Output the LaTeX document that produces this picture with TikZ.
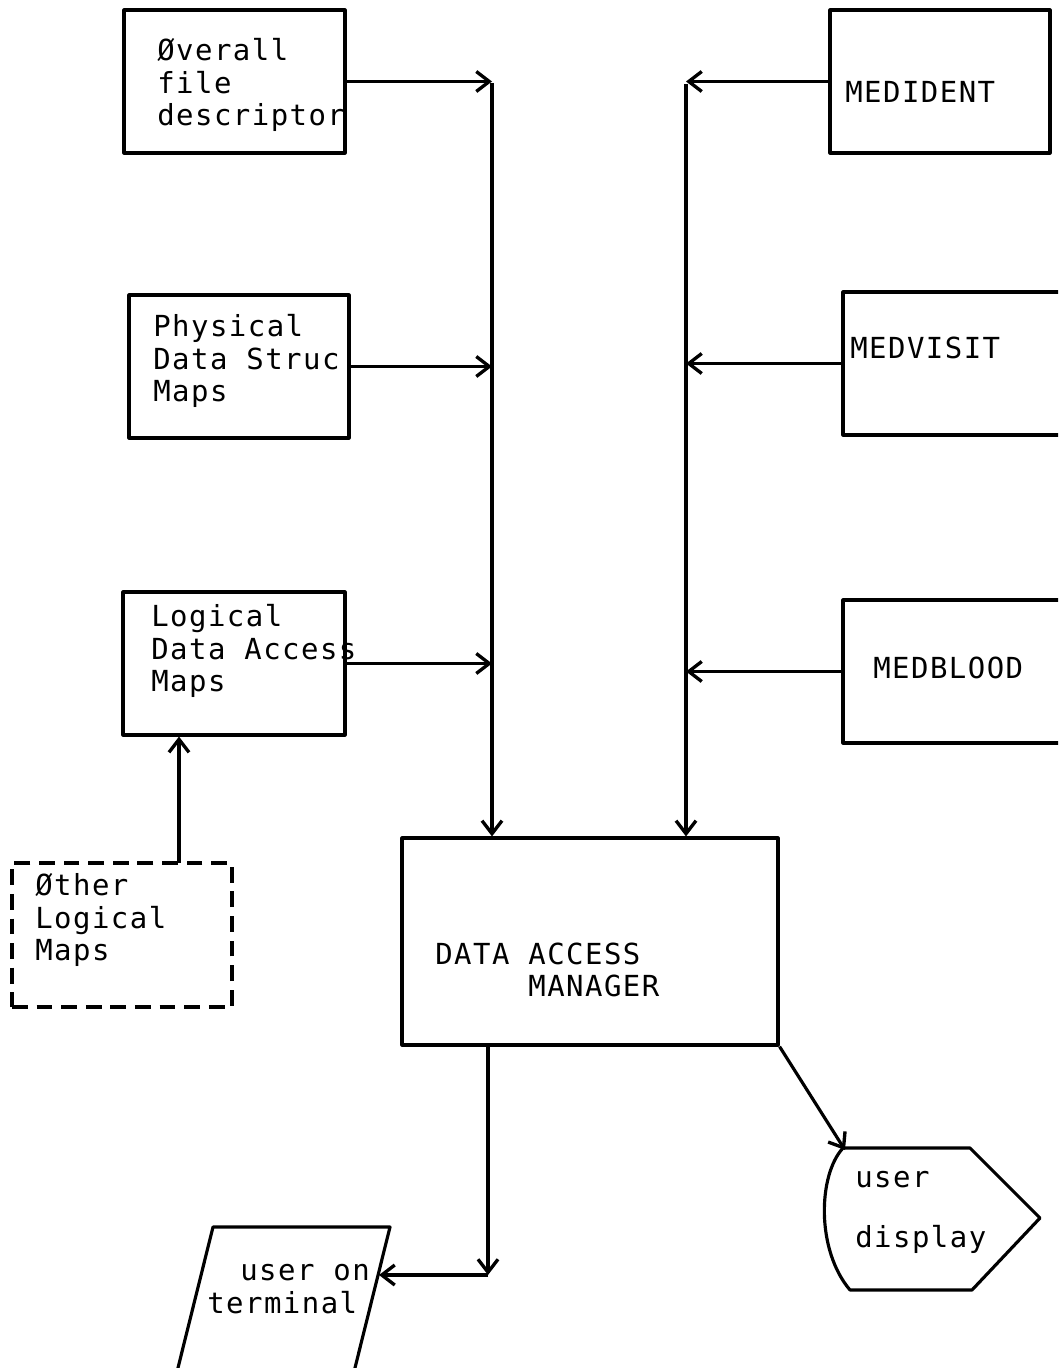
\documentclass[tikz,border=0pt]{standalone}
\usepackage{fontspec}
\newfontfamily\printerfont[LetterSpace=5]{DejaVu Sans Mono}
\usetikzlibrary{arrows.meta, positioning, fit, calc}

\tikzset{
    box/.style={draw, line width=1.8pt, inner sep=0pt, line join=round},
    dashbox/.style={box, dash pattern=on 9pt off 5pt},
    conn/.style={-{Straight Barb[length=2.6mm, width=4mm, line width=1.9pt]}, line width=1.8pt},
    lbl/.style={font=\printerfont\fontsize{16.5}{18.7}\selectfont, align=left, inner sep=0pt, anchor=west}
}

\begin{document}
\begin{tikzpicture}[x=0.02cm, y=-0.02cm]
    \useasboundingbox (0,0) rectangle (1058,1368);
    \clip (0,0) rectangle (1058,1368);

    % Hai đường dẫn dọc vào bộ quản lý
    \coordinate (ltop) at (492,83);
    \coordinate (rtop) at (686,84);

    % Khối quản lý truy cập dữ liệu
    \node[box, fit={(402,838) (778,1045)}] (dam) {};
    \node[lbl] (damtext) at (435,970) {DATA ACCESS\\\phantom{DATA }MANAGER};

    % Các bản đồ bên trái
    \foreach \nm/\xa/\ya/\xb/\yb/\tx/\ty/\txt in {
        ofd/124/10/345/153/157/85/{Øverall\\file\\descriptor},
        phys/129/295/349/438/153/361/{Physical\\Data Struc\\Maps},
        logic/123/592/345/735/151/651/{Logical\\Data Access\\Maps}} {
        \node[box, fit={(\xa,\ya) (\xb,\yb)}] (\nm) {};
        \node[lbl] (\nm text) at (\tx,\ty) {\txt};
        \draw[conn] (\nm.east) -- (\nm.east -| ltop);
    }

    % Các tệp dữ liệu bên phải
    \foreach \nm/\xa/\ya/\xb/\yb/\tx/\ty/\txt in {
        medident/830/10/1050/153/845/92/MEDIDENT,
        medvisit/843/292/1065/435/850/348/MEDVISIT,
        medblood/843/600/1065/743/873/668/MEDBLOOD} {
        \node[box, fit={(\xa,\ya) (\xb,\yb)}] (\nm) {};
        \node[lbl] (\nm text) at (\tx,\ty) {\txt};
        \draw[conn] (\nm.west) -- (\nm.west -| rtop);
    }

    \draw[conn] (ltop) -- (ltop |- dam.north);
    \draw[conn] (rtop) -- (rtop |- dam.north);

    % Bản đồ logic khác (nét đứt)
    \node[dashbox, fit={(12,863) (232,1007)}] (other) {};
    \node[lbl] (othertext) at (35,920) {Øther\\Logical\\Maps};
    \coordinate (othup) at (179,863);
    \draw[conn] (othup) -- (othup |- logic.south);

    % Đầu ra: thiết bị đầu cuối
    \draw[box] (170,1400) -- (213,1227) -- (390,1227) -- (347,1400);
    \node[lbl] (termtext) at (207,1289) {\hspace*{0.66cm}user on\\terminal};
    \coordinate (termdown) at (488,1275);
    \coordinate (termin) at (379,1275);
    \draw[conn] (dam.south -| termdown) -- (termdown);
    \draw[conn] (termdown) -- (termin);

    % Đầu ra: màn hình hiển thị
    \draw[box] (843,1148) -- (970,1148) -- (1040,1218) -- (972,1290) -- (850,1290)
        .. controls (816,1250) and (818,1175) .. (843,1148);
    \node[lbl] (disptext) at (855,1212) {user\\[0.54cm]display};
    \coordinate (dispin) at (845,1150);
    \draw[conn] (dam.south east) -- (dispin);

\end{tikzpicture}
\end{document}
